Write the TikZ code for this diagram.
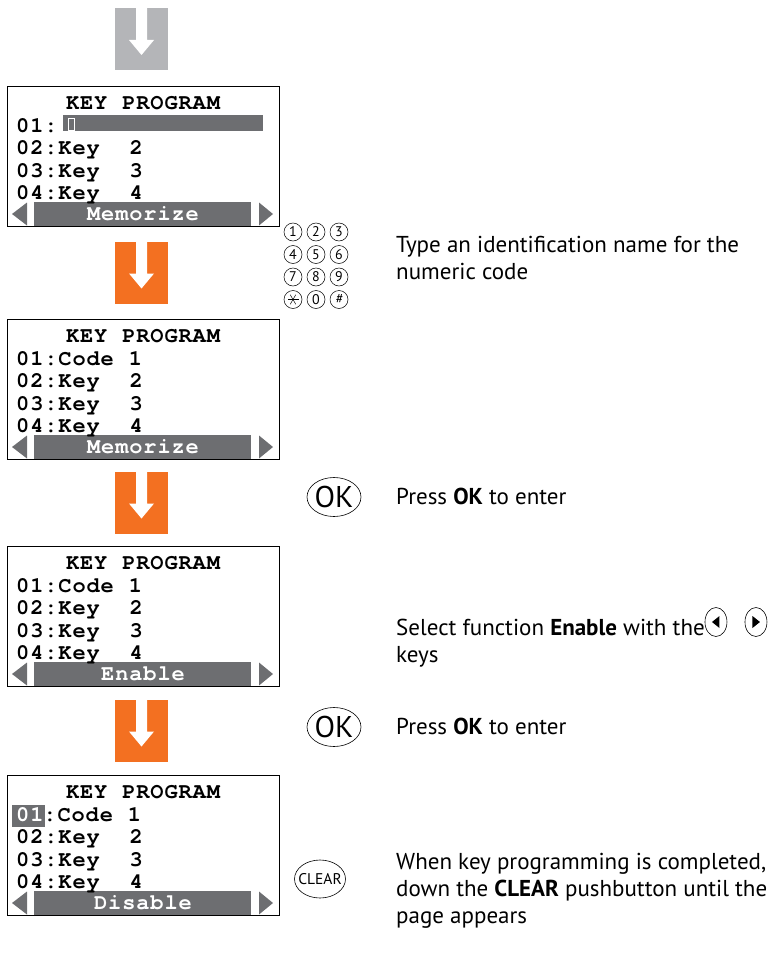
\documentclass[tikz,border=0pt]{standalone}
\usepackage{fontspec}
\setmainfont{PT Sans}
\newfontfamily\lcdfont[LetterSpace=4,WordSpace=1.06]{texgyrecursor-bold.otf}
\usetikzlibrary{positioning,shapes.geometric}

\definecolor{steporange}{HTML}{F37021}
\definecolor{stepgray}{HTML}{B4B5B8}
\definecolor{bargray}{HTML}{6D6E71}

\tikzset{
  lcdframe/.style={draw=black, line width=0.9pt},
  lcdtxt/.style={inner sep=0pt, anchor=base west, font=\fontsize{22}{22}\lcdfont},
  note/.style={inner sep=0pt, anchor=base west, font=\fontsize{23}{27}\selectfont},
  keycap/.style={circle, draw, line width=0.5pt, minimum size=18pt, inner sep=0pt,
                 font=\fontsize{14}{14}\selectfont},
  okbtn/.style={ellipse, draw, line width=0.6pt, minimum width=54pt, minimum height=39pt,
                inner sep=0pt, font=\fontsize{30}{30}\selectfont},
  clearbtn/.style={ellipse, draw, line width=0.6pt, minimum width=51pt, minimum height=38pt,
                   inner sep=0pt, font=\fontsize{15.5}{15.5}\selectfont},
  navkey/.style={ellipse, draw, line width=0.6pt, minimum width=22pt, minimum height=29pt,
                 inner sep=0pt}
}

% one display of the key menu: name, top edge, line 01, bar label
\newcommand{\keyscreen}[4]{%
  \begin{scope}[shift={(0,#2)}]
    \fill[bargray] (34,116) rectangle (251,140);
    \fill[bargray] (12,128) -- (27,116.5) -- (27,139.5) -- cycle;
    \fill[bargray] (273,128) -- (259,116.5) -- (259,139.5) -- cycle;
    \draw[lcdframe] (7,0) rectangle (279,140);
    \node[lcdtxt, anchor=base] (#1-head) at (143,23.5) {KEY PROGRAM};
    \node[lcdtxt] (#1-l1) at (16,46) {#3};
    \node[lcdtxt] (#1-l2) at (16,68.5) {02:Key~~2};
    \node[lcdtxt] (#1-l3) at (16,91) {03:Key~~3};
    \node[lcdtxt] (#1-l4) at (16,113) {04:Key~~4};
    \node[lcdtxt, anchor=base, text=white] (#1-bar) at (143,134.5) {#4};
  \end{scope}}

% block arrow between two steps: top edge, colour
\newcommand{\stepdown}[2]{%
  \begin{scope}[shift={(0,#1)}]
    \fill[#2] (115,0) rectangle (168,62);
    \fill[white] (136,0) -- (147,0) -- (147,32) -- (154,32) -- (141.5,47)
      -- (129,32) -- (136,32) -- cycle;
  \end{scope}}

\begin{document}
\begin{tikzpicture}[x=1pt, y=-1pt]
  \useasboundingbox (0,0) rectangle (779,971);

  % arrows
  \stepdown{8}{stepgray}
  \foreach \t in {241.5,471.5,699.5}
    {\stepdown{\t}{steporange}}

  % screens
  \fill[bargray] (63,115) rectangle (263,131);
  \keyscreen{scr1}{86}{01:}{Memorize}
  \draw[white, line width=0.8pt] (68,118.5) rectangle (74,130);
  \keyscreen{scr2}{319}{01:Code~1}{Memorize}
  \keyscreen{scr3}{546}{01:Code~1}{Enable}
  \fill[bargray] (12,805) rectangle (45,827);
  \keyscreen{scr4}{775}{\textcolor{white}{01}:Code~1}{Disable}

  % keypad
  \foreach \lab [count=\i from 0] in {1,2,3,4,5,6,7,8,9,{},0,{\textit{\#}}} {
    \pgfmathtruncatemacro\col{mod(\i,3)}
    \pgfmathtruncatemacro\row{div(\i,3)}
    \node[keycap] (key\i) at ({293+23*\col},{232+22.5*\row}) {\lab};
  }
  \foreach \a in {0,60,120}
    \draw[line width=0.5pt] ([shift={(\a:5.5)}]key9.center) -- ([shift={(\a+180:5.5)}]key9.center);

  % instructions
  \node[note] (typeid) at (396,252) {Type an identification name for the};
  \node[note] (typeid2) at ([yshift=-27pt]typeid.base west) {numeric code};

  \node[okbtn] (ok1) at (334,497) {\makebox[0pt]{OK}};
  \node[note] (press1) at (396,504) {Press \textbf{OK} to enter};

  \node[note] (select) at (396,635) {Select function \textbf{Enable} with the};
  \node[note] (select2) at ([yshift=-27pt]select.base west) {keys};
  \node[navkey] (keyleft) at ([xshift=11pt,yshift=13pt]select.base east) {};
  \node[navkey] (keyright) at ([xshift=40pt]keyleft.center) {};
  \fill ([xshift=-4pt]keyleft.center) -- ([xshift=3.5pt,yshift=6pt]keyleft.center)
    -- ([xshift=3.5pt,yshift=-6pt]keyleft.center) -- cycle;
  \fill ([xshift=4pt]keyright.center) -- ([xshift=-3.5pt,yshift=6pt]keyright.center)
    -- ([xshift=-3.5pt,yshift=-6pt]keyright.center) -- cycle;

  \node[okbtn] (ok2) at (334,727) {\makebox[0pt]{OK}};
  \node[note] (press2) at (396,734) {Press \textbf{OK} to enter};

  \node[clearbtn] (clear) at (320,879) {\makebox[0pt]{CLEAR}};
  \node[note] (done) at (396,869) {When key programming is completed,};
  \node[note] (done2) at ([yshift=-27pt]done.base west) {down the \textbf{CLEAR} pushbutton until the};
  \node[note] (done3) at ([yshift=-27pt]done2.base west) {page appears};
\end{tikzpicture}
\end{document}
